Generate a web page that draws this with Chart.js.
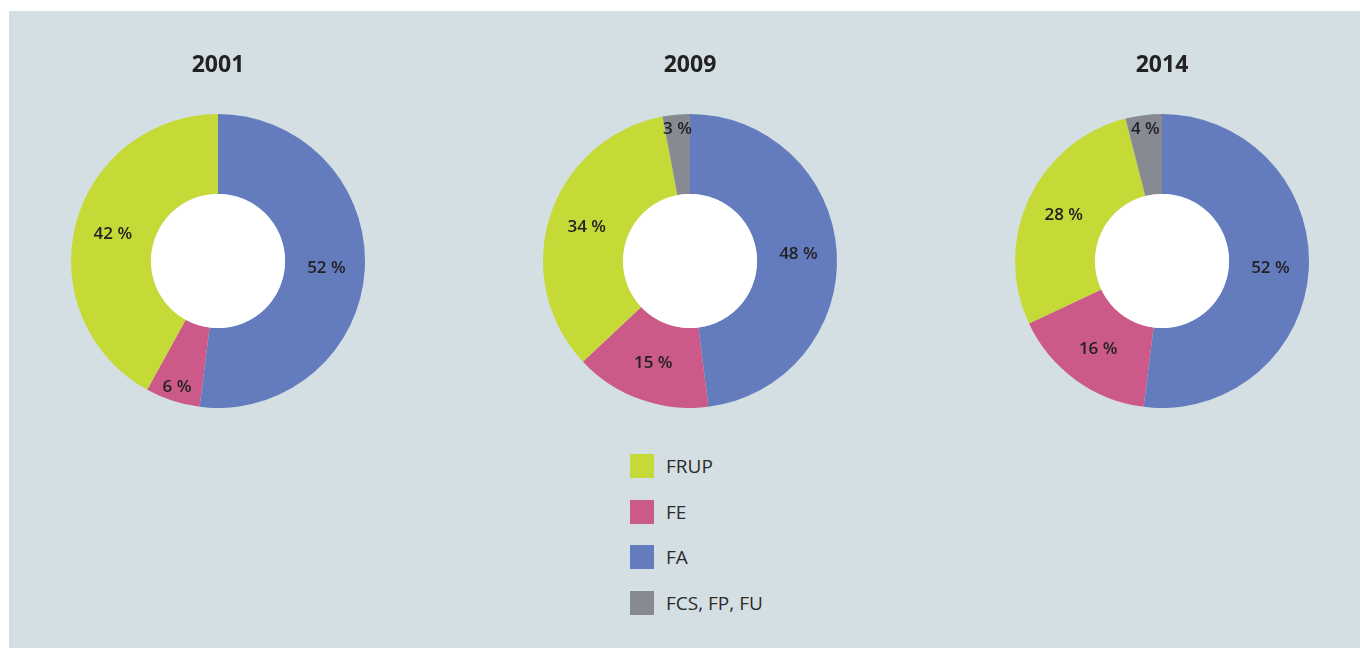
<!DOCTYPE html>
<html>
<head>
<meta charset="utf-8">
<script src="https://cdn.jsdelivr.net/npm/chart.js@4/dist/chart.umd.min.js"></script>
<style>
  html, body { margin: 0; padding: 0; background: #ffffff; width: 1360px; height: 648px; overflow: hidden; }
  #panel { position: absolute; left: 9px; top: 11px; width: 1351px; height: 637px; background: #d4dfe3; }
  canvas.pie { position: absolute; }
  #legend { position: absolute; left: 630px; top: 454px; font-family: "Open Sans", sans-serif; font-size: 19px; color: #2b2b2b; }
  #legend .row { position: relative; height: 45.5px; }
  #legend .sw { position: absolute; left: 0; top: 0; width: 24px; height: 24px; }
  #legend .tx { position: absolute; left: 36px; top: -1px; line-height: 26px; white-space: nowrap; }
</style>
</head>
<body>
<div id="panel"></div>
<canvas id="c0" class="pie" width="400" height="356" style="left:18px;top:52px"></canvas>
<canvas id="c1" class="pie" width="400" height="356" style="left:490px;top:52px"></canvas>
<canvas id="c2" class="pie" width="400" height="356" style="left:962px;top:52px"></canvas>
<div id="legend"></div>
<script>
// ---- data ----
const years = ['2001', '2009', '2014'];
// slice order around each ring, clockwise from top
const categories = ['FA', 'FE', 'FRUP', 'FCS, FP, FU'];
const colors = ['#647cbe', '#cc5a89', '#c6da37', '#878a93'];
const values2001 = [52, 6, 42, 0];
const values2009 = [48, 15, 34, 3];
const values2014 = [52, 16, 28, 4];
const legendOrder = ['FRUP', 'FE', 'FA', 'FCS, FP, FU'];

const seriesByYear = [values2001, values2009, values2014];

const holePlugin = {
  id: 'hole',
  afterDatasetsDraw(chart) {
    const meta = chart.getDatasetMeta(0);
    const arc = meta.data[0];
    if (!arc) return;
    const p = arc.getProps(['x', 'y', 'innerRadius'], true);
    const ctx = chart.ctx;
    ctx.save();
    ctx.beginPath();
    ctx.arc(p.x, p.y, p.innerRadius, 0, Math.PI * 2);
    ctx.fillStyle = '#ffffff';
    ctx.fill();
    ctx.restore();
  }
};

const labelPlugin = {
  id: 'sliceLabels',
  afterDatasetsDraw(chart) {
    const ds = chart.data.datasets[0];
    const meta = chart.getDatasetMeta(0);
    const total = ds.data.reduce((a, b) => a + b, 0);
    const ctx = chart.ctx;
    ctx.save();
    ctx.font = '600 17px "Open Sans", sans-serif';
    ctx.fillStyle = '#222222';
    ctx.textAlign = 'center';
    ctx.textBaseline = 'middle';
    meta.data.forEach((arc, i) => {
      const v = ds.data[i];
      if (!v) return;
      const p = arc.getProps(['x', 'y', 'startAngle', 'endAngle', 'innerRadius', 'outerRadius'], true);
      const a = (p.startAngle + p.endAngle) / 2;
      const frac = v / total < 0.08 ? 0.82 : 0.52;
      const r = p.innerRadius + (p.outerRadius - p.innerRadius) * frac;
      ctx.fillText(v + ' %', p.x + Math.cos(a) * r, p.y + Math.sin(a) * r);
    });
    ctx.restore();
  }
};

years.forEach((yr, k) => {
  new Chart(document.getElementById('c' + k), {
    type: 'doughnut',
    data: {
      labels: categories,
      datasets: [{
        data: seriesByYear[k],
        backgroundColor: colors,
        borderWidth: 0,
        hoverOffset: 0
      }]
    },
    options: {
      responsive: false,
      maintainAspectRatio: false,
      animation: false,
      cutout: '45.6%',
      layout: { padding: 0 },
      events: [],
      plugins: {
        legend: { display: false },
        tooltip: { enabled: false },
        title: {
          display: true,
          text: yr,
          color: '#222222',
          font: { family: '"Open Sans", sans-serif', size: 23, weight: 'bold', lineHeight: 1.2 },
          padding: { top: 0, bottom: 34.4 }
        }
      }
    },
    plugins: [holePlugin, labelPlugin]
  });
});

// legend built from the same arrays
const legendEl = document.getElementById('legend');
legendOrder.forEach(name => {
  const i = categories.indexOf(name);
  const row = document.createElement('div');
  row.className = 'row';
  const sw = document.createElement('div');
  sw.className = 'sw';
  sw.style.background = colors[i];
  const tx = document.createElement('div');
  tx.className = 'tx';
  tx.textContent = name;
  row.appendChild(sw);
  row.appendChild(tx);
  legendEl.appendChild(row);
});
</script>
</body>
</html>
